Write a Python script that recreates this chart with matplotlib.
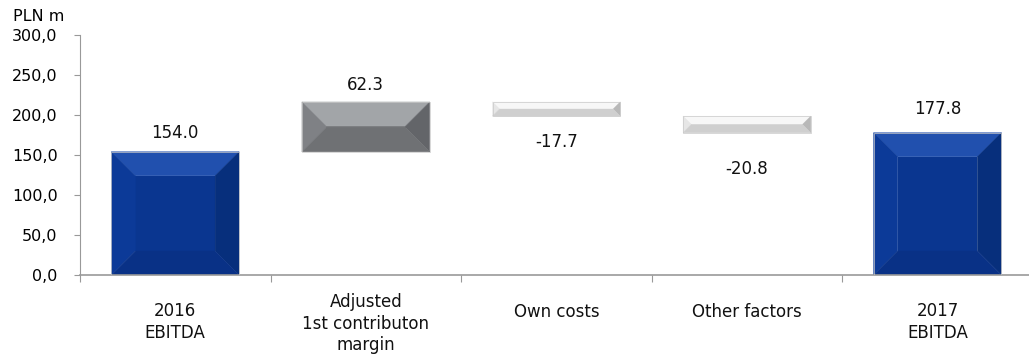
import numpy as np
import matplotlib
matplotlib.use('Agg')
import matplotlib.pyplot as plt
from matplotlib.patches import Polygon


categories = ['2016\nEBITDA', 'Adjusted\n1st contributon\nmargin', 'Own costs', 'Other factors', '2017\nEBITDA']
changes = [154.0, 62.3, -17.7, -20.8, 177.8]
is_total = [True, False, False, False, True]
y_ticks = [0, 50, 100, 150, 200, 250, 300]

# waterfall bottoms / tops
bottoms = []
tops = []
running = 0.0
for v, tot in zip(changes, is_total):
    if tot:
        bottoms.append(0.0)
        tops.append(v)
        running = v
    else:
        start = running
        running = running + v
        bottoms.append(min(start, running))
        tops.append(max(start, running))

# colours: base, top, left, right, bottom facets
blue = ['#0a3690', '#2150ae', '#0c3a98', '#072f7c', '#093186']
grey = ['#76787b', '#a2a5a8', '#7f8185', '#636569', '#6f7174']
white = ['#eeeeee', '#f7f7f7', '#e6e6e6', '#b8b8b8', '#cfcfcf']
bar_cols = [blue, grey, white, white, blue]
label_off = [19, 17, -26, -36, 24]   # pixels from bar edge

fig = plt.figure(figsize=(10.29, 3.6), dpi=100)
ax = fig.add_axes([0.0777, 0.2361, 0.926, 0.6667])
ax.set_xlim(-0.5, 4.5)
ax.set_ylim(0, 300)

width = 0.67
fig.canvas.draw()
to_pix = ax.transData
to_dat = ax.transData.inverted()


def bevel_bar(x, b, t, cols):
    x0, x1 = x - width / 2, x + width / 2
    (px0, py0) = to_pix.transform((x0, b))
    (px1, py1) = to_pix.transform((x1, t))
    w = px1 - px0
    h = py1 - py0
    bv = min(24, h / 2, w / 2)
    outer = [(px0, py0), (px1, py0), (px1, py1), (px0, py1)]
    inner = [(px0 + bv, py0 + bv), (px1 - bv, py0 + bv), (px1 - bv, py1 - bv), (px0 + bv, py1 - bv)]
    O = to_dat.transform(outer)
    I = to_dat.transform(inner)
    facets = [
        (I, cols[0]),
        ([O[3], O[2], I[2], I[3]], cols[1]),   # top
        ([O[0], O[3], I[3], I[0]], cols[2]),   # left
        ([O[1], O[2], I[2], I[1]], cols[3]),   # right
        ([O[0], O[1], I[1], I[0]], cols[4]),   # bottom
    ]
    for pts, c in facets:
        ax.add_patch(Polygon(pts, closed=True, facecolor=c, edgecolor=c, lw=0.3, zorder=2))
    ax.add_patch(Polygon(O, closed=True, fill=False, edgecolor='#c8c8c8', lw=0.5, zorder=3))


for i in range(len(changes)):
    bevel_bar(i, bottoms[i], tops[i], bar_cols[i])
    off = label_off[i]
    yref = tops[i] if off > 0 else bottoms[i]
    ax.annotate('%.1f' % changes[i], (i, yref), xytext=(0, off * 0.72),
                textcoords='offset points', ha='center', va='center',
                fontsize=12, color='#111111')

# axes styling
for s in ['top', 'right']:
    ax.spines[s].set_visible(False)
ax.spines['left'].set_color('#999999')
ax.spines['bottom'].set_color('#999999')
ax.spines['bottom'].set_linewidth(1.2)

ax.set_yticks(y_ticks)
ax.set_yticklabels([('%.1f' % v).replace('.', ',') for v in y_ticks], fontsize=11.5)
ax.tick_params(axis='y', length=4, color='#999999', pad=12)

ax.set_xticks(np.arange(-0.5, 4.6, 1.0))
ax.set_xticklabels([])
ax.tick_params(axis='x', length=5, color='#999999', direction='out')

label_top = [302, 293, 303, 303, 302]  # pixel rows for label tops
for i, lab in enumerate(categories):
    ax.text(i, 1 - (label_top[i] - 35) / 240, lab, transform=ax.get_xaxis_transform(),
            ha='center', va='top', fontsize=12, linespacing=1.25, color='#111111')

fig.text(0.013, 0.955, 'PLN m', fontsize=11.5, ha='left', va='center')

fig.savefig('out.png', dpi=100)
